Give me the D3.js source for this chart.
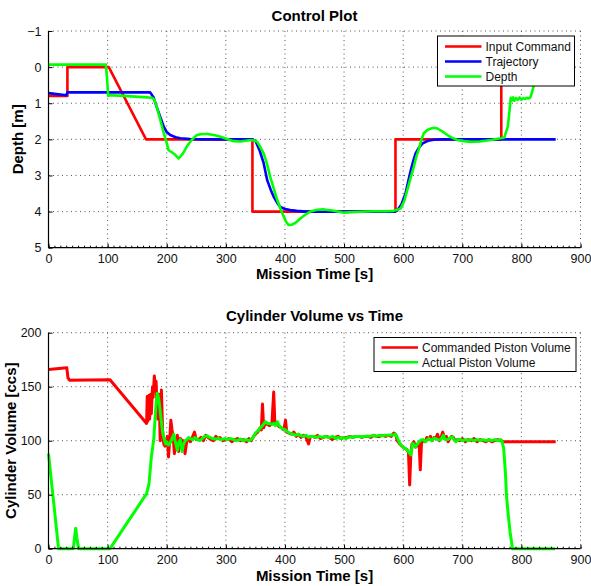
<!DOCTYPE html>
<html>
<head>
<meta charset="utf-8">
<script src="https://cdn.jsdelivr.net/npm/d3@7"></script>
<style>
  body { margin: 0; background: #fff; }
  text { font-family: "Liberation Sans", Arial, sans-serif; }
  .title, .xlabel, .ylabel { font-weight: bold; font-size: 15px; }
  .tick text { font-size: 12.5px; }
</style>
</head>
<body>
<svg class="root"></svg>
<script>
// ---- Control Plot data (time [s], depth [m]) ----
var cmdT  = [0, 32, 32, 102, 165, 345, 345, 587, 587, 766, 766, 858];
var cmdD  = [0.8, 0.8, 0, 0, 2, 2, 4, 4, 2, 2, 0, 0];

var trajT = [0, 10, 20, 30, 32, 172, 178, 183, 189, 195, 200, 206, 215, 223, 240, 257, 345, 350, 357, 364, 370, 376, 381, 387, 392, 400, 409, 420, 435, 585, 590, 597, 604, 608, 613, 617, 621, 627, 633, 642, 652, 665, 858];
var trajD = [0.72, 0.74, 0.76, 0.78, 0.70, 0.70, 0.85, 1.1, 1.38, 1.65, 1.8, 1.88, 1.94, 1.97, 1.99, 2.0, 2.0, 2.04, 2.3, 2.66, 3.13, 3.4, 3.59, 3.76, 3.87, 3.93, 3.96, 3.98, 4.0, 4.0, 3.97, 3.8, 3.5, 3.2, 2.85, 2.6, 2.39, 2.22, 2.11, 2.04, 2.01, 2.0, 2.0];

var depthT = [0, 97, 99, 101, 103, 120, 140, 160, 175, 179, 183, 189, 195, 200, 203, 208, 214, 220, 227, 234, 242, 251, 260, 268, 280, 291, 302, 313, 325, 342, 348, 353, 358, 364, 370, 375, 381, 387, 393, 398, 402, 406, 412, 418, 426, 435, 443, 455, 466, 480, 500, 520, 550, 570, 584, 590, 596, 602, 607, 612, 618, 622, 627, 631, 635, 641, 647, 653, 658, 666, 675, 683, 692, 703, 714, 730, 748, 765, 771, 774, 777, 780, 782, 784, 786, 788, 791, 794, 797, 800, 803, 806, 809, 812, 815, 818, 821, 824, 828];
var depthD = [-0.07, -0.07, 0.3, 0.8, 0.78, 0.79, 0.81, 0.83, 0.85, 0.9, 1.1, 1.45, 1.83, 2.1, 2.3, 2.35, 2.42, 2.53, 2.4, 2.2, 2.02, 1.88, 1.85, 1.85, 1.88, 1.93, 1.99, 2.05, 2.06, 2.02, 2.03, 2.07, 2.2, 2.39, 2.7, 3.04, 3.36, 3.68, 3.95, 4.14, 4.28, 4.37, 4.36, 4.31, 4.19, 4.08, 4.0, 3.95, 3.94, 3.97, 4.03, 4.01, 3.99, 3.99, 3.98, 3.95, 3.91, 3.7, 3.4, 3.1, 2.76, 2.5, 2.25, 2.0, 1.83, 1.74, 1.7, 1.68, 1.7, 1.78, 1.88, 1.96, 2.02, 2.05, 2.07, 2.06, 2.02, 1.97, 1.95, 1.8, 1.65, 1.2, 0.85, 0.92, 0.84, 0.93, 0.86, 0.9, 0.84, 0.9, 0.86, 0.88, 0.85, 0.87, 0.84, 0.7, 0.5, 0.3, 0.1];

// ---- Cylinder Volume data (time [s], volume [ccs]) ----
var comVolT = [0, 31, 33, 36, 104, 166, 167, 168, 170, 171, 173, 174, 176, 177, 179, 181, 182, 183, 185, 187, 189, 191, 193, 195, 197, 199, 201, 203, 205, 207, 209, 211, 213, 215, 218, 220, 223, 226, 228, 231, 234, 237, 240, 244, 247, 250, 254, 258, 262, 266, 270, 275, 279, 283, 287, 290, 295, 300, 305, 310, 315, 320, 325, 330, 335, 339, 343, 347, 350, 354, 358, 360, 362, 364, 367, 370, 374, 378, 381, 383, 386, 390, 394, 398, 401, 403, 407, 411, 415, 419, 423, 427, 431, 435, 440, 443, 447, 451, 455, 460, 465, 470, 475, 480, 485, 490, 495, 500, 505, 510, 515, 520, 525, 530, 535, 540, 545, 550, 555, 560, 565, 570, 575, 580, 584, 587, 590, 594, 598, 602, 606, 609, 611, 613, 615, 618, 621, 624, 627, 629, 631, 634, 637, 640, 643, 646, 649, 652, 655, 658, 661, 664, 667, 670, 673, 676, 679, 682, 685, 688, 692, 696, 700, 705, 710, 715, 720, 725, 730, 735, 740, 745, 750, 755, 760, 765, 768, 858];
var comVol  = [166, 167.5, 158, 156, 156.5, 116, 141, 118, 142, 120, 143, 125, 150, 140, 160, 150, 155, 140, 120, 143, 100, 147, 110, 97, 95, 98, 104, 85, 100, 119, 110, 103, 88, 100, 105, 90, 102, 100, 100, 88, 100, 102, 99, 104, 108, 101, 101, 103, 100, 105, 103, 101, 100, 104, 102, 103, 100, 101, 102, 99, 101, 102, 100, 101, 99, 102, 100, 104, 106, 108, 112, 110, 134, 112, 117, 115, 114, 116, 145, 115, 117, 113, 112, 110, 119, 108, 107, 106, 108, 104, 106, 103, 105, 104, 97, 104, 104, 103, 105, 102, 103, 104, 103, 101, 103, 104, 102, 103, 103, 104, 103, 104, 104, 103, 104, 104, 103, 105, 104, 104, 105, 104, 105, 104, 107, 106, 100, 97, 95, 93, 92, 89, 59, 88, 97, 99, 94, 96, 97, 73, 98, 100, 99, 103, 101, 104, 100, 103, 102, 106, 100, 103, 108, 102, 104, 99, 102, 104, 103, 100, 101, 100, 102, 99, 101, 100, 102, 99, 101, 100, 99, 101, 99, 100, 101, 100, 99, 99];

var actVolT = [0, 17, 42, 44, 46, 48, 51, 104, 166, 170, 174, 178, 182, 184, 186, 188, 190, 193, 195, 198, 200, 203, 206, 209, 212, 214, 216, 218, 220, 223, 226, 228, 231, 234, 237, 240, 244, 248, 252, 256, 260, 264, 268, 273, 278, 283, 288, 293, 298, 302, 308, 313, 318, 325, 330, 335, 339, 343, 346, 350, 354, 358, 362, 367, 371, 375, 378, 381, 384, 387, 390, 392, 396, 401, 405, 409, 414, 418, 422, 426, 431, 436, 440, 444, 448, 453, 458, 463, 467, 471, 476, 481, 486, 490, 494, 499, 503, 507, 511, 516, 520, 525, 530, 535, 539, 544, 549, 554, 559, 564, 569, 574, 579, 584, 587, 590, 593, 596, 599, 603, 607, 610, 613, 616, 619, 621, 624, 627, 630, 634, 638, 641, 644, 648, 651, 655, 659, 663, 666, 668, 670, 672, 675, 678, 681, 683, 686, 689, 693, 697, 701, 705, 710, 715, 720, 725, 730, 735, 740, 745, 750, 755, 760, 765, 767, 770, 773, 775, 778, 781, 785, 857];
var actVol  = [88, 0, 0, 10, 19, 10, 0, 0, 51, 60, 85, 101, 134, 144, 140, 132, 122, 108, 103, 97, 99, 96, 98, 102, 106, 100, 96, 91, 98, 101, 90, 96, 100, 101, 103, 102, 101, 103, 101, 100, 102, 104, 104.5, 103, 102, 101.5, 102, 101, 102, 101, 102, 101, 100, 101.5, 100, 101, 100, 101, 103, 107, 109, 111.5, 114, 117.6, 116, 116, 115, 116, 114, 117.6, 114, 113, 111, 110, 108, 106.8, 106, 105, 106, 105, 104, 105, 103, 104, 104, 103, 104, 103, 104, 103.4, 103, 104, 102, 103, 102, 103, 102, 103, 103.7, 103, 104, 104, 103.5, 104, 104.4, 104, 105, 104, 105, 104.5, 105, 105, 105.3, 105.5, 106.2, 103, 99, 96, 94.4, 93, 91.4, 89, 86.8, 97.6, 96, 94.4, 97, 99, 100.6, 101, 99, 101, 102, 100, 102, 102, 101, 100.6, 103, 105, 102, 101, 101, 102, 103, 103.7, 101, 99, 101, 101, 100, 101, 100, 101, 100, 101, 100, 101, 100, 101, 100, 101, 100, 101, 100, 93, 70, 48, 30, 15, 0, 0];

var xTicks = [0, 100, 200, 300, 400, 500, 600, 700, 800, 900];
var depthTicks = [-1, 0, 1, 2, 3, 4, 5];
var volTicks = [0, 50, 100, 150, 200];

var W = 591, H = 586;
var svg = d3.select(".root").attr("width", W).attr("height", H);

var x = d3.scaleLinear().domain([0, 900]).range([48.5, 580.5]);

function zip(ts, vs) { return ts.map(function(t, i) { return [t, vs[i]]; }); }

function panel(opt) {
  var y = d3.scaleLinear().domain(opt.yDomain).range(opt.yRange);
  var g = svg.append("g");
  var yTop = Math.min(opt.yRange[0], opt.yRange[1]), yBot = Math.max(opt.yRange[0], opt.yRange[1]);

  // dotted grid
  g.selectAll(".vg").data(xTicks.slice(1)).enter().append("line")
      .attr("x1", function(d) { return x(d); }).attr("x2", function(d) { return x(d); })
      .attr("y1", yTop).attr("y2", yBot)
      .attr("stroke", "#555").attr("stroke-width", 1).attr("stroke-dasharray", "1,3.5");
  g.selectAll(".hg").data(opt.ticks).enter().append("line")
      .attr("x1", x(0)).attr("x2", x(900))
      .attr("y1", function(d) { return y(d); }).attr("y2", function(d) { return y(d); })
      .attr("stroke", "#555").attr("stroke-width", 1).attr("stroke-dasharray", "1,3.5")
      .style("display", function(d) { return y(d) === yBot ? "none" : null; });

  // series
  var line = d3.line().x(function(d) { return x(d[0]); }).y(function(d) { return y(d[1]); });
  opt.series.forEach(function(s) {
    g.append("path").datum(zip(s.t, s.v)).attr("d", line)
      .attr("fill", "none").attr("stroke", s.color).attr("stroke-width", opt.lw)
      .attr("stroke-linejoin", "round");
  });

  // axes (ticks inward)
  var xa = g.append("g").attr("transform", "translate(0," + yBot + ")")
      .call(d3.axisBottom(x).tickValues(xTicks).tickSize(-4).tickPadding(opt.xPad).tickFormat(d3.format("d")));
  g.append("g").attr("transform", "translate(0," + yBot + ")")
      .call(d3.axisBottom(x).tickValues(d3.range(0, 901, 10)).tickSize(-2).tickFormat(""))
      .call(function(a) { a.select(".domain").remove(); });
  var ya = g.append("g").attr("transform", "translate(" + x(0) + ",0)")
      .call(d3.axisLeft(y).tickValues(opt.ticks).tickSize(-4).tickPadding(7).tickFormat(function(d) { return d < 0 ? "\u2212" + (-d) : d; }));
  g.selectAll(".domain").attr("stroke", "#000").attr("stroke-width", 1.2);
  g.selectAll(".tick line").attr("stroke", "#000");
  g.selectAll(".tick text").attr("fill", "#111");
  ya.select(".domain").attr("d", "M0," + yTop + "V" + yBot);
  xa.select(".domain").attr("d", "M" + x(0) + ",0H" + x(900));

  // titles
  g.append("text").attr("class", "title").attr("x", x(450)).attr("y", opt.titleY)
    .attr("text-anchor", "middle").text(opt.title);
  g.append("text").attr("class", "xlabel").attr("x", x(450)).attr("y", yBot + opt.xLabelOff)
    .attr("text-anchor", "middle").text("Mission Time [s]");
  g.append("text").attr("class", "ylabel")
    .attr("transform", "translate(" + opt.yLabelX + "," + ((yTop + yBot) / 2) + ")rotate(-90)")
    .attr("text-anchor", "middle").text(opt.yLabel);

  // legend
  var L = opt.legend;
  var lg = g.append("g");
  lg.append("rect").attr("x", L.x).attr("y", L.y).attr("width", L.w).attr("height", L.h)
    .attr("fill", "#fff").attr("stroke", "#000").attr("stroke-width", 1);
  opt.series.forEach(function(s, i) {
    var cy = L.y + L.first + i * L.step;
    lg.append("line").attr("x1", L.x + 7.5).attr("x2", L.x + 44).attr("y1", cy).attr("y2", cy)
      .attr("stroke", s.color).attr("stroke-width", 2.6);
    lg.append("text").attr("x", L.x + 48).attr("y", cy + 4.3).attr("font-size", "12px")
      .attr("fill", "#111").text(s.name);
  });
}

panel({
  title: "Control Plot", titleY: 21,
  yDomain: [-1, 5], yRange: [31, 247.7], ticks: depthTicks,
  yLabel: "Depth [m]", yLabelX: 23, xPad: 6.5, xLabelOff: 31.5, lw: 2.6,
  series: [
    { name: "Input Command", t: cmdT, v: cmdD, color: "#ff0000" },
    { name: "Trajectory", t: trajT, v: trajD, color: "#0000ff" },
    { name: "Depth", t: depthT, v: depthD, color: "#00ff00" }
  ],
  legend: { x: 437.5, y: 36, w: 137, h: 50, first: 10.5, step: 15 }
});

panel({
  title: "Cylinder Volume vs Time", titleY: 321,
  yDomain: [0, 200], yRange: [548.7, 332.7], ticks: volTicks,
  yLabel: "Cylinder Volume [ccs]", yLabelX: 16, xPad: 6, xLabelOff: 32.5, lw: 3,
  series: [
    { name: "Commanded Piston Volume", t: comVolT, v: comVol, color: "#ff0000" },
    { name: "Actual Piston Volume", t: actVolT, v: actVol, color: "#00ff00" }
  ],
  legend: { x: 374, y: 337.5, w: 202, h: 34, first: 10, step: 14.7 }
});
</script>
</body>
</html>
